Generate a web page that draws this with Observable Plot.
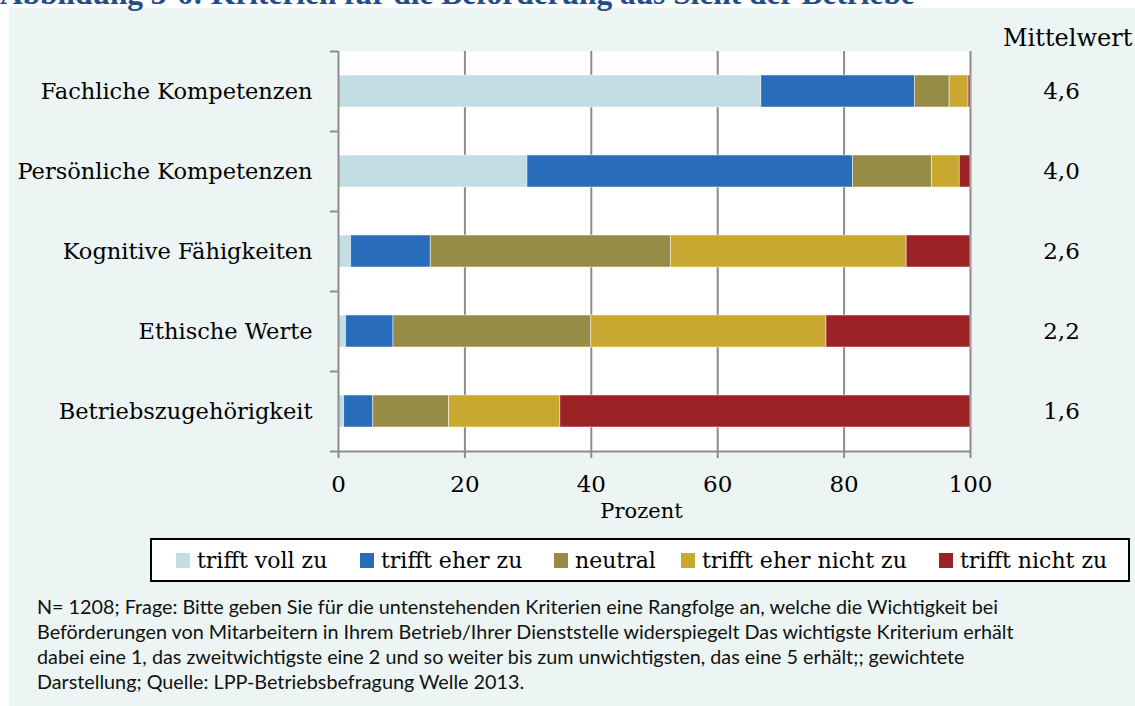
<!DOCTYPE html>
<html><head><meta charset="utf-8">
<script src="https://cdn.jsdelivr.net/npm/d3@7"></script>
<script src="https://cdn.jsdelivr.net/npm/@observablehq/plot@0.6"></script>
<style>
body{margin:0;background:#fff;}
#wrap{position:relative;width:1135px;height:706px;overflow:hidden;}
#title{position:absolute;left:0;top:-19px;font-family:"Liberation Serif";font-weight:bold;font-size:26px;line-height:26px;color:#1F4E89;white-space:nowrap;}
#panel{position:absolute;left:9px;top:8px;right:0;bottom:0;background:#ECF5F3;}
#chart{position:absolute;left:0;top:0;}
#mw{position:absolute;left:1003px;top:23px;font-family:"DejaVu Serif";font-size:24px;line-height:30px;color:#000;white-space:nowrap;}
#legend{position:absolute;left:150px;top:538px;width:976px;height:40px;border:2px solid #000;background:#fff;}
.item{position:absolute;top:0;height:40px;display:flex;align-items:center;font-family:"DejaVu Serif";font-size:22px;color:#000;white-space:nowrap;}
.sw{width:14px;height:15px;margin-right:7px;flex:none;}
#note{position:absolute;left:37px;top:594px;font-family:Lato;font-size:17.5px;line-height:25px;color:#111;white-space:nowrap;}
#note span{display:block;}
</style>
</head><body>
<div id="wrap">
  <div id="panel"></div>
  <div id="title"></div>
  <div id="chart"></div>
  <div id="mw"></div>
  <div id="legend"></div>
  <div id="note"></div>
</div>
<script>
const titleText = "Abbildung 3-6: Kriterien für die Beförderung aus Sicht der Betriebe";
const categories = ["Fachliche Kompetenzen","Persönliche Kompetenzen","Kognitive Fähigkeiten","Ethische Werte","Betriebszugehörigkeit"];
const responses = ["trifft voll zu","trifft eher zu","neutral","trifft eher nicht zu","trifft nicht zu"];
const colors = ["#C3DEE2","#296CB9","#968C46","#C8A830","#9B2326"];
const trifftVollZu      = [66.9, 29.9,  2.0,  1.2,  0.9];
const trifftEherZu      = [24.3, 51.5, 12.6,  7.5,  4.6];
const neutral           = [ 5.5, 12.5, 38.0, 31.3, 12.0];
const trifftEherNichtZu = [ 3.0,  4.4, 37.3, 37.2, 17.6];
const trifftNichtZu     = [ 0.3,  1.7, 10.1, 22.8, 64.9];
const means = [4.6, 4.0, 2.6, 2.2, 1.6];
const meanHeader = "Mittelwert";
const xTicks = [0, 20, 40, 60, 80, 100];
const xLabel = "Prozent";
const noteLines = [
  "N= 1208; Frage: Bitte geben Sie für die untenstehenden Kriterien eine Rangfolge an, welche die Wichtigkeit bei",
  "Beförderungen von Mitarbeitern in Ihrem Betrieb/Ihrer Dienststelle widerspiegelt Das wichtigste Kriterium erhält",
  "dabei eine 1, das zweitwichtigste eine 2 und so weiter bis zum unwichtigsten, das eine 5 erhält;; gewichtete",
  "Darstellung; Quelle: LPP-Betriebsbefragung Welle 2013."
];

const series = [trifftVollZu, trifftEherZu, neutral, trifftEherNichtZu, trifftNichtZu];
const rows = [];
categories.forEach((c, i) => series.forEach((s, j) => rows.push({cat: c, idx: i, resp: responses[j], value: s[i]})));

const gray = "#8C8C8C";
const chart = Plot.plot({
  width: 1135, height: 530,
  marginLeft: 338, marginRight: 165, marginTop: 51, marginBottom: 79,
  style: {background: "transparent", overflow: "visible", fontFamily: "DejaVu Serif", color: "#000"},
  x: {domain: [0, 100]},
  y: {domain: [0, categories.length], reverse: true, axis: null},
  color: {domain: responses, range: colors},
  marks: [
    Plot.frame({fill: "white", stroke: null}),
    Plot.gridX({ticks: xTicks.slice(1), stroke: gray, strokeOpacity: 1, strokeWidth: 2}),
    Plot.rectX(rows, {x: "value", y1: "idx", y2: d => d.idx + 1, insetTop: 24, insetBottom: 24,
      fill: "resp", stroke: "white", strokeWidth: 0.8, strokeOpacity: 0.6}),
    Plot.ruleX([0], {stroke: gray, strokeWidth: 2}),
    Plot.ruleY([categories.length], {stroke: gray, strokeWidth: 2}),
    Plot.axisX({ticks: xTicks, tickSize: 7, tickPadding: 17, fontSize: 23, stroke: gray, strokeWidth: 2, label: null, tickFormat: d => String(d)}),
    Plot.axisY({ticks: d3.range(categories.length + 1), tickSize: 8, tickFormat: () => "", stroke: gray, strokeWidth: 2, label: null}),
    Plot.axisY({ticks: categories.map((c, i) => i + 0.5), tickFormat: t => categories[Math.floor(t)], tickSize: 0, tickPadding: 26, fontSize: 22.5, label: null}),
    Plot.text(means, {x: 100, y: (d, i) => i + 0.5, dx: 91, text: d => d.toFixed(1).replace(".", ","), fontSize: 23, textAnchor: "middle"}),
    Plot.text([xLabel], {frameAnchor: "bottom", dy: 66, dx: -13, fontSize: 21})
  ]
});
document.getElementById("chart").appendChild(chart);

document.getElementById("title").textContent = titleText;
document.getElementById("mw").textContent = meanHeader;

const lefts = [24, 208, 402, 529, 787];
const legend = document.getElementById("legend");
responses.forEach((r, j) => {
  const it = document.createElement("div");
  it.className = "item";
  it.style.left = lefts[j] + "px";
  const sw = document.createElement("span");
  sw.className = "sw";
  sw.style.background = colors[j];
  it.appendChild(sw);
  it.appendChild(document.createTextNode(r));
  legend.appendChild(it);
});

const note = document.getElementById("note");
noteLines.forEach(l => { const s = document.createElement("span"); s.textContent = l; note.appendChild(s); });

function fitWidth(el, target) {
  el.style.display = "inline-block";
  const w = el.getBoundingClientRect().width;
  const fs = parseFloat(getComputedStyle(el).fontSize);
  el.style.fontSize = (fs * target / w) + "px";
  el.style.display = "";
}
fitWidth(document.getElementById("title"), 915);
const first = note.firstChild;
first.style.display = "inline-block";
const w1 = first.getBoundingClientRect().width;
first.style.display = "";
note.style.fontSize = (17.5 * 962 / w1) + "px";
</script>
</body></html>
